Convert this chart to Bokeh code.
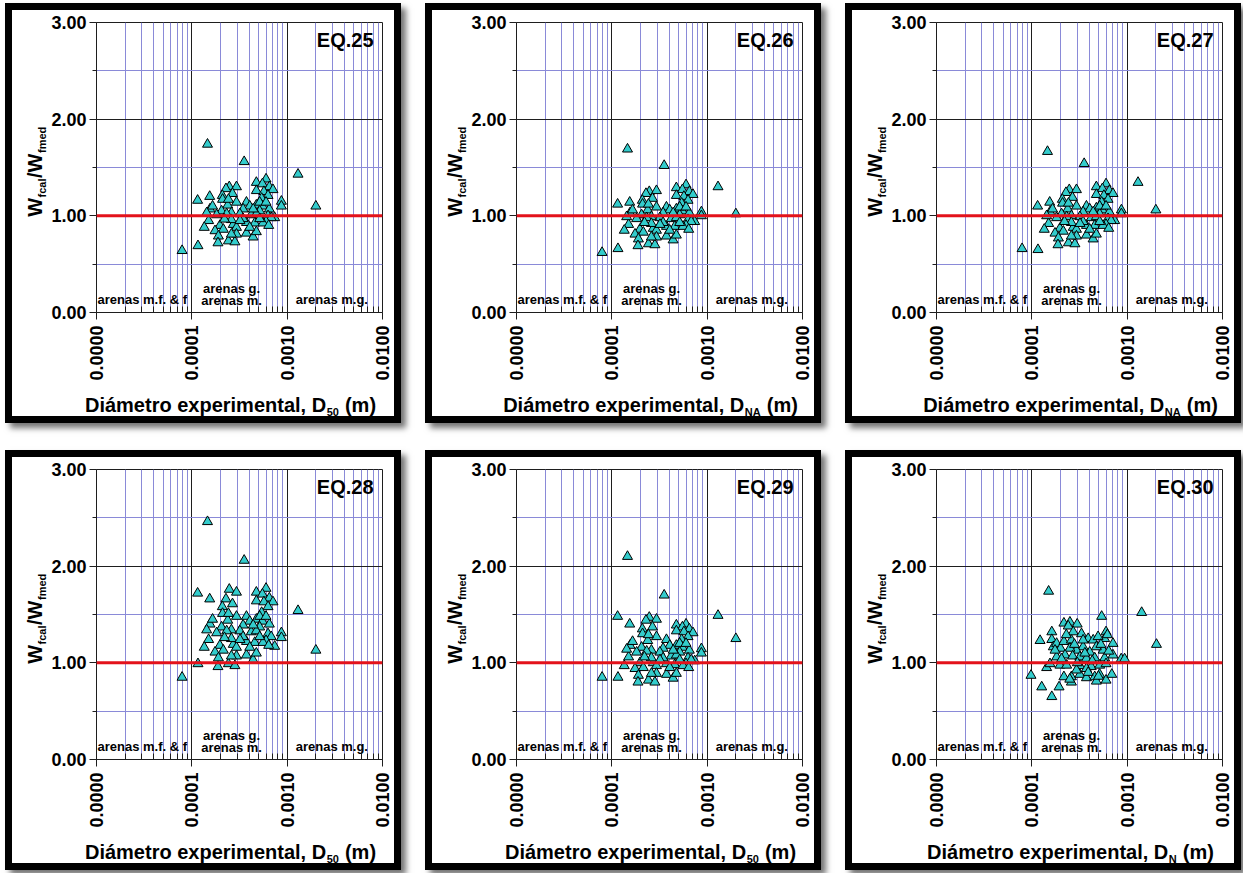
import math
from bokeh.plotting import figure
from bokeh.models import Range1d, FixedTicker, PrintfTickFormatter, Span, Label
from bokeh.layouts import row, column
from bokeh.embed import file_html
from bokeh.resources import INLINE

# ---------------- data ----------------
D50 = [1.46e-4, 3.54e-4, 1.30e-3, 2.00e-3, 7.9e-5, 1.16e-4, 1.15e-4, 1.54e-4, 8.7e-4, 8.7e-4,
       6.0e-4, 4.75e-4, 5.5e-4, 6.5e-4, 7.1e-4, 2.47e-4, 2.94e-4, 2.28e-4, 2.09e-4, 2.67e-4,
       4.75e-4, 5.7e-4, 6.3e-4, 5.4e-4, 2.1e-4, 3.74e-4, 2.94e-4, 2.38e-4, 1.55e-4, 1.65e-4,
       4.05e-4, 4.75e-4, 5.5e-4, 5.15e-4, 6.5e-4, 7.4e-4, 3.45e-4, 3.19e-4, 2.6e-4, 2.05e-4,
       2.32e-4, 1.82e-4, 4.2e-4, 4.75e-4, 6.3e-4, 6.8e-4, 6.0e-4, 1.5e-4, 1.35e-4, 1.97e-4,
       1.75e-4, 2.14e-4, 2.72e-4, 2.94e-4, 3.74e-4, 4.57e-4, 5.58e-4, 6.4e-4, 1.9e-4, 2.42e-4,
       2.83e-4, 2.94e-4, 3.74e-4, 4.39e-4, 4.75e-4, 2.6e-4, 1.88e-4, 1.43e-4, 2.42e-4, 3.45e-4,
       2.6e-4, 2.2e-4, 4.4e-4, 5.15e-4, 6.0e-4, 3.2e-4, 4.05e-4, 5.15e-4]

W25 = [1.74, 1.56, 1.43, 1.10, 0.64, 0.69, 1.16, 1.20, 1.15, 1.10,
       1.38, 1.345, 1.33, 1.30, 1.27, 1.30, 1.30, 1.28, 1.21, 1.23,
       1.26, 1.25, 1.21, 1.18, 1.17, 1.14, 1.14, 1.11, 1.07, 1.10,
       1.10, 1.11, 1.10, 1.05, 1.07, 0.98, 1.07, 1.02, 1.03, 1.05,
       1.02, 1.01, 1.01, 1.02, 1.00, 0.98, 0.94, 0.95, 0.88, 0.90,
       0.845, 0.86, 0.91, 0.88, 0.93, 0.925, 0.925, 0.90, 0.79, 0.74,
       0.73, 0.81, 0.82, 0.78, 0.835, 0.81, 0.72, 1.03, 1.17, 0.97,
       0.96, 0.965, 1.07, 1.14, 1.14, 0.95, 0.88, 0.97]

W26 = [1.69, 1.52, 1.30, 1.02, 0.62, 0.66, 1.12, 1.14, 1.04, 1.00,
       1.32, 1.29, 1.27, 1.25, 1.22, 1.25, 1.26, 1.23, 1.16, 1.18,
       1.21, 1.20, 1.16, 1.13, 1.12, 1.09, 1.09, 1.06, 1.03, 1.06,
       1.06, 1.07, 1.05, 1.01, 1.03, 0.94, 1.03, 0.98, 0.99, 1.01,
       0.98, 0.97, 0.97, 0.98, 0.96, 0.94, 0.90, 0.91, 0.85, 0.86,
       0.81, 0.83, 0.87, 0.85, 0.89, 0.89, 0.89, 0.86, 0.76, 0.71,
       0.70, 0.78, 0.79, 0.75, 0.80, 0.78, 0.69, 0.99, 1.12, 0.93,
       0.92, 0.93, 1.03, 1.09, 1.09, 0.91, 0.85, 0.93]

W27 = [1.665, 1.54, 1.345, 1.06, 0.66, 0.65, 1.10, 1.14, 1.06, 1.02,
       1.33, 1.30, 1.28, 1.26, 1.23, 1.27, 1.27, 1.24, 1.17, 1.19,
       1.22, 1.21, 1.17, 1.14, 1.13, 1.10, 1.10, 1.07, 1.04, 1.07,
       1.07, 1.08, 1.06, 1.02, 1.04, 0.95, 1.04, 0.99, 1.00, 1.02,
       0.99, 0.98, 0.98, 0.99, 0.97, 0.95, 0.91, 0.92, 0.86, 0.87,
       0.82, 0.84, 0.88, 0.86, 0.90, 0.90, 0.90, 0.87, 0.77, 0.72,
       0.71, 0.79, 0.80, 0.76, 0.81, 0.79, 0.70, 1.00, 1.13, 0.94,
       0.93, 0.94, 1.04, 1.10, 1.10, 0.92, 0.86, 0.94]

W28 = [2.46, 2.06, 1.54, 1.13, 0.85, 0.99, 1.72, 1.66, 1.31, 1.26,
       1.77, 1.73, 1.71, 1.67, 1.63, 1.76, 1.73, 1.66, 1.58, 1.61,
       1.64, 1.63, 1.58, 1.52, 1.51, 1.48, 1.48, 1.44, 1.40, 1.45,
       1.43, 1.45, 1.43, 1.37, 1.40, 1.17, 1.39, 1.33, 1.34, 1.37,
       1.33, 1.31, 1.32, 1.33, 1.30, 1.27, 1.23, 1.24, 1.16, 1.18,
       1.11, 1.13, 1.19, 1.16, 1.22, 1.21, 1.21, 1.18, 1.05, 0.99,
       0.97, 1.07, 1.08, 1.03, 1.10, 1.07, 0.96, 1.34, 1.51, 1.27,
       1.25, 1.26, 1.39, 1.48, 1.48, 1.24, 1.16, 1.27]

W29 = [2.10, 1.70, 1.49, 1.25, 0.85, 0.85, 1.48, 1.40, 1.145, 1.10,
       1.40, 1.39, 1.37, 1.35, 1.31, 1.47, 1.45, 1.44, 1.35, 1.37,
       1.33, 1.32, 1.27, 1.24, 1.30, 1.24, 1.27, 1.23, 1.18, 1.22,
       1.18, 1.18, 1.16, 1.11, 1.13, 1.02, 1.15, 1.11, 1.13, 1.16,
       1.12, 1.11, 1.07, 1.08, 1.05, 1.03, 0.99, 1.06, 0.97, 1.00,
       0.94, 0.95, 1.00, 0.97, 0.99, 0.98, 0.97, 0.95, 0.87, 0.82,
       0.80, 0.89, 0.88, 0.84, 0.89, 0.89, 0.80, 1.14, 1.29, 1.05,
       1.05, 1.06, 1.13, 1.20, 1.20, 1.03, 0.95, 1.03]

DN = [1.50e-4, 5.4e-4, 1.42e-3, 2.03e-3, 9.8e-5, 1.27e-4, 1.62e-4, 1.93e-4, 1.22e-4, 1.62e-4,
      8.66e-4, 9.4e-4, 2.17e-4, 2.51e-4, 2.99e-4, 2.41e-4, 1.62e-4, 1.68e-4, 1.82e-4, 2.0e-4,
      2.17e-4, 2.6e-4, 2.72e-4, 3.32e-4, 3.9e-4, 4.4e-4, 6.0e-4, 5.8e-4, 7.1e-4, 7.1e-4,
      5.6e-4, 4.75e-4, 4.05e-4, 3.45e-4, 2.94e-4, 2.51e-4, 2.23e-4, 2.68e-4, 3.19e-4, 3.74e-4,
      4.57e-4, 5.8e-4, 1.97e-4, 2.32e-4, 3.19e-4, 4.2e-4, 5.15e-4, 6.0e-4, 1.43e-4, 1.55e-4,
      2.17e-4, 2.6e-4, 2.6e-4, 3.19e-4, 3.74e-4, 4.57e-4, 4.75e-4, 5.15e-4, 6.0e-4, 6.9e-4,
      2.94e-4, 3.74e-4, 1.82e-4, 1.75e-4, 3.45e-4, 4.95e-4, 2.3e-4, 2.8e-4, 3.6e-4, 4.3e-4,
      5.3e-4, 6.4e-4, 2.05e-4, 3.0e-4, 3.9e-4, 5.0e-4, 6.2e-4, 2.5e-4]

W30 = [1.74, 1.48, 1.52, 1.19, 0.87, 0.75, 0.65, 0.75, 1.23, 1.32,
       1.04, 1.04, 1.41, 1.42, 1.40, 1.38, 1.24, 1.165, 1.20, 1.15,
       1.22, 1.235, 1.32, 1.30, 1.25, 1.235, 1.32, 1.25, 1.20, 1.08,
       1.13, 1.165, 1.11, 1.165, 1.13, 1.15, 1.08, 1.07, 1.06, 1.045,
       1.05, 1.05, 0.975, 0.975, 0.97, 0.96, 0.975, 0.99, 0.95, 0.99,
       0.855, 0.855, 0.80, 0.88, 0.845, 0.855, 0.81, 0.88, 0.82, 0.88,
       0.925, 0.94, 1.06, 1.13, 1.235, 1.27, 1.29, 1.19, 1.10, 1.02,
       1.19, 1.12, 1.04, 1.00, 0.90, 0.86, 1.29, 0.83]

X_TICKS = [1e-5, 1e-4, 1e-3, 1e-2]
Y_TICKS = [0, 1, 2, 3]
Y_MINOR = [0.5, 1.5, 2.5]

PANELS = [
    ("EQ.25", D50, W25, "50"),
    ("EQ.26", D50, W26, "NA"),
    ("EQ.27", D50, W27, "NA"),
    ("EQ.28", D50, W28, "50"),
    ("EQ.29", D50, W29, "50"),
    ("EQ.30", DN, W30, "N"),
]

# ---------------- style / geometry ----------------
FONT = "Liberation Sans"
BLUE = "#8a8ad8"
DARK = "#1e1e1e"
FILL = "#33cccc"
RED = "#e3121b"

PANEL_W, PANEL_H = 396, 420
YT_W = 43                      # strip holding the y title
XT_H = 32                      # strip holding the x title
B_L, B_R, B_T = 46, 19, 19     # borders of the main figure
PLOT_W, PLOT_H = 288, 290
MAIN_W = B_L + PLOT_W + B_R    # 353
MAIN_H = PANEL_H - XT_H        # 388
B_B = MAIN_H - B_T - PLOT_H    # 79
PLOT_LEFT = YT_W + B_L         # 89, frame left in panel coords
MID = 0.3465                   # baseline -> middle of text box, in em

# Arial-Bold advance widths (per 1000 em) of the glyphs used in composed titles
ADV = {"W": 944, "f": 333, "c": 556, "a": 556, "l": 278, "/": 278, "m": 889, "e": 556,
       "d": 611, "5": 556, "0": 556, "N": 722, "A": 722, " ": 278, "(": 333, ")": 333,
       "D": 722, "i": 278, "á": 556, "t": 333, "r": 389, "o": 611, "x": 556, "p": 611,
       "n": 611, ",": 278}


def tw(s, size):
    return sum(ADV[ch] for ch in s) * size / 1000.0


def lx(px):
    """px from frame left -> data x (log axis)"""
    return 10 ** (-5 + px * 3.0 / PLOT_W)


def ly(px):
    """px above frame bottom -> data y"""
    return px * 3.0 / PLOT_H


def lab(p, x, y, text, size, align="left", angle=0.0):
    p.add_layout(Label(x=x, y=y, text=text, text_font=FONT, text_font_style="bold",
                       text_font_size=f"{size}px", text_color="black", text_align=align,
                       text_baseline="middle", angle=angle))


def blank_fig(w, h, y_range):
    f = figure(width=w, height=h, x_range=Range1d(0, w), y_range=y_range,
               output_backend="svg", toolbar_location=None,
               x_axis_location=None, y_axis_location=None, min_border=0,
               background_fill_color=None, border_fill_color=None)
    f.grid.visible = False
    f.outline_line_color = None
    return f


def make_main(title, xs, ys):
    p = figure(width=MAIN_W, height=MAIN_H, x_axis_type="log",
               x_range=Range1d(1e-5, 1e-2), y_range=Range1d(0, 3),
               output_backend="svg", toolbar_location=None,
               min_border_left=B_L, min_border_right=B_R,
               min_border_top=B_T, min_border_bottom=B_B,
               background_fill_color="white", border_fill_color=None)
    p.outline_line_color = DARK
    p.outline_line_width = 1

    minor_x = [m * 10 ** e for e in (-5, -4, -3) for m in range(2, 10)]
    p.xaxis.ticker = FixedTicker(ticks=X_TICKS, minor_ticks=minor_x)
    p.xaxis.formatter = PrintfTickFormatter(format="%.4f")
    p.xaxis.major_label_orientation = math.pi / 2
    p.yaxis.ticker = FixedTicker(ticks=Y_TICKS, minor_ticks=Y_MINOR)
    p.yaxis.formatter = PrintfTickFormatter(format="%.2f")
    for ax in (p.xaxis, p.yaxis):
        ax.axis_line_color = DARK
        ax.major_tick_line_color = DARK
        ax.minor_tick_line_color = DARK
        ax.major_label_text_font = FONT
        ax.major_label_text_font_style = "bold"
        ax.major_label_text_font_size = "18px"
        ax.major_label_text_color = "black"
        ax.major_tick_in = 0
    p.xaxis.major_tick_out = 7
    p.xaxis.minor_tick_in = 6
    p.xaxis.minor_tick_out = 0
    p.xaxis.major_label_standoff = 6
    p.yaxis.major_tick_out = 7
    p.yaxis.minor_tick_out = 4
    p.yaxis.minor_tick_in = 0
    p.yaxis.major_label_standoff = 3

    for g in (p.xgrid, p.ygrid):
        g.grid_line_color = DARK
        g.grid_line_width = 1
        g.minor_grid_line_color = BLUE
        g.minor_grid_line_width = 1

    p.scatter(xs, ys, marker="triangle", size=10, fill_color=FILL,
              line_color="black", line_width=1)
    p.add_layout(Span(location=1.0, dimension="width", line_color=RED, line_width=3))

    # labels: y given as baseline (px above frame bottom), shifted to the box middle
    lab(p, lx(279), ly(PLOT_H - 24 + MID * 20), title, 20, align="right")
    lab(p, lx(1), ly(8 + MID * 13), "arenas m.f. & f", 13)
    lab(p, lx(136), ly(19 + MID * 13), "arenas g.", 13, align="center")
    lab(p, lx(136), ly(7 + MID * 13), "arenas m.", 13, align="center")
    lab(p, lx(237), ly(8 + MID * 13), "arenas m.g.", 13, align="center")
    return p


def make_ytitle():
    # this strip sits in a row with the main figure, so its frame is aligned
    # with the main frame: its y range is given in px above the plot bottom
    f = blank_fig(YT_W, MAIN_H, Range1d(0, PLOT_H))
    big, small = 20, 11
    start = 0.99 * PLOT_H / 3.0
    for txt, sz, base_x in (("W", big, 36), ("fcal", small, 40),
                            ("/W", big, 36), ("fmed", small, 40)):
        w = tw(txt, sz)
        lab(f, base_x - MID * sz, start + w / 2.0, txt, sz, align="center",
            angle=math.pi / 2)
        start += w + 0.5
    return f


def make_xtitle(sub):
    f = blank_fig(PANEL_W, XT_H, Range1d(0, XT_H))
    main, tail = "Diámetro experimental, D", "(m)"
    main_w, sub_w = tw(main, 20), tw(sub, 11)
    gap = tw(" ", 20)
    total = main_w + sub_w + 1 + gap + tw(tail, 20)
    x0 = PLOT_LEFT + 136 - total / 2.0 + main_w
    base, sub_base = 12, 8
    lab(f, x0, base + MID * 20, main, 20, align="right")
    lab(f, x0 + 0.5, sub_base + MID * 11, sub, 11)
    lab(f, x0 + sub_w + 1 + gap, base + MID * 20, tail, 20)
    return f


def make_panel(title, xs, ys, sub):
    body = row(make_ytitle(), make_main(title, xs, ys), spacing=0)
    return column(body, make_xtitle(sub), spacing=0,
                  styles={"background-color": "white",
                          "box-shadow": "inset 0 0 0 7px #000, 5px 5px 6px rgba(0,0,0,0.55)"})


panels = [make_panel(*cfg) for cfg in PANELS]
layout = column(row(panels[0], panels[1], panels[2], spacing=24),
                row(panels[3], panels[4], panels[5], spacing=24), spacing=27,
                styles={"margin-left": "5px", "margin-top": "3px"})

open("out.html", "w").write(file_html(layout, INLINE))
